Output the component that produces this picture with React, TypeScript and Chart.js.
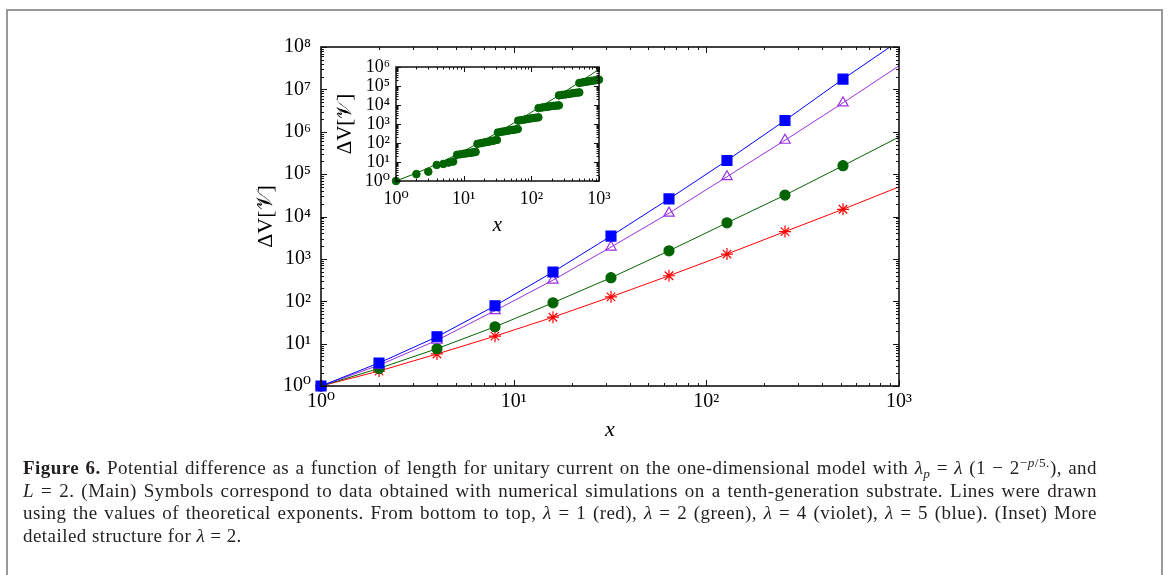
import React, { useEffect, useRef } from 'react';
import { Chart, registerables } from 'chart.js';

Chart.register(...registerables);

// ---------- data ----------
const xValues = [1, 2, 4, 8, 16, 32, 64, 128, 256, 512];
const redValues = [1, 2.25, 5.7, 15, 42, 127, 400, 1300, 4400, 14800]; // lambda = 1
const greenValues = [1, 2.6, 7.6, 25, 92, 360, 1550, 7100, 32000, 158000]; // lambda = 2
const violetValues = [1, 3.1, 12, 60, 315, 1900, 12000, 87000, 630000, 4800000]; // lambda = 4
const blueValues = [1, 3.5, 14.5, 78, 490, 3450, 26000, 210000, 1850000, 17500000]; // lambda = 5

const lineEndX = 1000;
const redEnd = 50000;
const greenEnd = 750000;
const violetEnd = 36000000;
const blueEnd = 140000000;

const mainXTicks = [1, 10, 100, 1000];
const mainXTickLabels = ['10⁰', '10¹', '10²', '10³'];
const mainYTicks = [1, 10, 100, 1e3, 1e4, 1e5, 1e6, 1e7, 1e8];
const mainYTickLabels = ['10⁰', '10¹', '10²', '10³', '10⁴', '10⁵', '10⁶', '10⁷', '10⁸'];

// inset: detailed structure for lambda = 2
const insetX = [
  1, 2, 3, 4, 5, 6, 7,
  8, 9, 10, 11, 12, 13, 14, 15,
  16, 18, 20, 22, 24, 26, 28, 31,
  32, 36, 40, 44, 48, 53, 58, 63,
  64, 72, 80, 88, 96, 106, 116, 127,
  128, 144, 160, 176, 192, 212, 232, 255,
  256, 288, 320, 352, 384, 424, 464, 511,
  512, 576, 640, 704, 768, 848, 928, 1000,
];
const insetY = [
  1, 2.3, 3.1, 7, 7.9, 9.3, 10.5,
  24, 25.5, 27, 28.5, 30, 31, 32.5, 34,
  90, 98, 106, 113, 120, 127, 134, 145,
  355, 385, 412, 438, 462, 488, 513, 540,
  1500, 1620, 1730, 1840, 1940, 2040, 2140, 2240,
  6900, 7350, 7800, 8200, 8600, 8950, 9250, 9550,
  32000, 34000, 36000, 38000, 40000, 42000, 44000, 46000,
  145000, 156000, 166000, 176000, 186000, 196000, 206000, 215000,
];
const insetYTicks = [1, 10, 100, 1e3, 1e4, 1e5, 1e6];
const insetYTickLabels = ['10⁰', '10¹', '10²', '10³', '10⁴', '10⁵', '10⁶'];

// ---------- helpers ----------
const SERIF = '"Liberation Serif", "DejaVu Serif", serif';

const frameTicksPlugin = {
  id: 'frameTicks',
  afterDatasetsDraw(chart: any, _args: any, opts: any) {
    const { ctx, chartArea } = chart;
    const { left, right, top, bottom } = chartArea;
    const xs = chart.scales.x;
    const ys = chart.scales.y;
    const major = opts.major || 6;
    const minor = opts.minor || 3;
    ctx.save();
    ctx.strokeStyle = '#111';
    ctx.lineWidth = 1;
    ctx.beginPath();
    const drawAxis = (scale: any, horizontal: boolean) => {
      const e0 = Math.round(Math.log10(scale.min));
      const e1 = Math.round(Math.log10(scale.max));
      for (let e = e0; e <= e1; e++) {
        for (let k = 1; k <= 9; k++) {
          const v = k * Math.pow(10, e);
          if (v > scale.max * 1.0001) break;
          const p = Math.round(scale.getPixelForValue(v)) + 0.5;
          const len = k === 1 ? major : minor;
          if (horizontal) {
            ctx.moveTo(p, bottom);
            ctx.lineTo(p, bottom - len);
            ctx.moveTo(p, top);
            ctx.lineTo(p, top + len);
          } else {
            ctx.moveTo(left, p);
            ctx.lineTo(left + len, p);
            ctx.moveTo(right, p);
            ctx.lineTo(right - len, p);
          }
        }
      }
    };
    drawAxis(xs, true);
    drawAxis(ys, false);
    ctx.stroke();
    ctx.lineWidth = opts.frameWidth || 1.5;
    ctx.strokeStyle = '#111';
    ctx.strokeRect(left, top, right - left, bottom - top);
    ctx.restore();
  },
};

const pts = (xs: number[], ys: number[]) => xs.map((x, i) => ({ x, y: ys[i] }));

const seriesDefs = [
  { label: 'λ = 5', values: blueValues, end: blueEnd, color: '#0000ff', style: 'rect', radius: 7, fill: '#0000ff' },
  { label: 'λ = 4', values: violetValues, end: violetEnd, color: '#9b30e0', style: 'triangle', radius: 6, fill: 'rgba(255,255,255,0)' },
  { label: 'λ = 2', values: greenValues, end: greenEnd, color: '#006400', style: 'circle', radius: 5, fill: '#006400' },
  { label: 'λ = 1', values: redValues, end: redEnd, color: '#ff0000', style: 'star', radius: 6, fill: '#ff0000' },
];

function MainChart() {
  const ref = useRef<HTMLCanvasElement | null>(null);
  useEffect(() => {
    if (!ref.current) return;
    const markerSets = seriesDefs.map((s) => ({
      label: s.label,
      data: pts(xValues, s.values),
      showLine: false,
      pointStyle: s.style,
      pointRadius: s.radius,
      pointBackgroundColor: s.fill,
      pointBorderColor: s.color,
      pointBorderWidth: 1.2,
      clip: false,
    }));
    const lineSets = seriesDefs.map((s) => ({
      label: s.label + ' theory',
      data: pts([...xValues, lineEndX], [...s.values, s.end]),
      showLine: true,
      borderColor: s.color,
      borderWidth: 1,
      pointRadius: 0,
      clip: 0,
    }));
    const chart = new Chart(ref.current, {
      type: 'scatter',
      data: { datasets: [...markerSets, ...lineSets] as any },
      plugins: [frameTicksPlugin as any],
      options: {
        animation: false,
        responsive: false,
        events: [],
        layout: { padding: { left: 0, top: 27, right: 41, bottom: 0 } },
        plugins: { legend: { display: false }, tooltip: { enabled: false }, frameTicks: { major: 6, minor: 3, frameWidth: 1.6 } } as any,
        scales: {
          x: {
            type: 'logarithmic',
            min: 1,
            max: 1000,
            position: 'bottom',
            grid: { display: false, drawTicks: false },
            border: { display: false },
            afterBuildTicks: (s: any) => { s.ticks = mainXTicks.map((v) => ({ value: v })); },
            afterFit: (s: any) => { s.height = 74; },
            ticks: {
              autoSkip: false,
              maxRotation: 0,
              padding: 4,
              color: '#000',
              font: { family: SERIF, size: 20 },
              callback: (_v: any, i: number) => mainXTickLabels[i],
            },
            title: { display: true, text: 'x', color: '#000', font: { family: SERIF, size: 22, style: 'italic' }, padding: { top: 0, bottom: 17 } },
          },
          y: {
            type: 'logarithmic',
            min: 1,
            max: 1e8,
            position: 'left',
            grid: { display: false, drawTicks: false },
            border: { display: false },
            afterBuildTicks: (s: any) => { s.ticks = mainYTicks.map((v) => ({ value: v })); },
            afterFit: (s: any) => { s.width = 121; },
            ticks: {
              autoSkip: false,
              padding: 10,
              color: '#000',
              font: { family: SERIF, size: 20 },
              callback: (_v: any, i: number) => mainYTickLabels[i],
            },
            title: { display: true, text: 'ΔV[𝒱]', color: '#000', font: { family: SERIF, size: 22 }, padding: { top: 53, bottom: 0 } },
          },
        } as any,
      },
    });
    return () => chart.destroy();
  }, []);
  return <canvas ref={ref} width={740} height={440} style={{ position: 'absolute', left: 200, top: 20, width: 740, height: 440 }} />;
}

function InsetChart() {
  const ref = useRef<HTMLCanvasElement | null>(null);
  useEffect(() => {
    if (!ref.current) return;
    const chart = new Chart(ref.current, {
      type: 'scatter',
      data: {
        datasets: [
          {
            label: 'λ = 2 detail',
            data: pts(insetX, insetY),
            showLine: false,
            pointStyle: 'circle',
            pointRadius: 3.8,
            pointBackgroundColor: '#006400',
            pointBorderColor: '#006400',
            pointBorderWidth: 1,
            clip: false,
          },
          {
            label: 'λ = 2 theory',
            data: pts([...xValues, lineEndX], [...greenValues, greenEnd]),
            showLine: true,
            borderColor: '#006400',
            borderWidth: 1,
            pointRadius: 0,
            clip: 0,
          },
        ] as any,
      },
      plugins: [frameTicksPlugin as any],
      options: {
        animation: false,
        responsive: false,
        events: [],
        layout: { padding: { left: 0, top: 17, right: 21, bottom: 0 } },
        plugins: { legend: { display: false }, tooltip: { enabled: false }, frameTicks: { major: 5, minor: 2.5, frameWidth: 1.5 } } as any,
        scales: {
          x: {
            type: 'logarithmic',
            min: 1,
            max: 1000,
            position: 'bottom',
            grid: { display: false, drawTicks: false },
            border: { display: false },
            afterBuildTicks: (s: any) => { s.ticks = mainXTicks.map((v) => ({ value: v })); },
            afterFit: (s: any) => { s.height = 64; },
            ticks: {
              autoSkip: false,
              maxRotation: 0,
              padding: 7,
              color: '#000',
              font: { family: SERIF, size: 18 },
              callback: (_v: any, i: number) => mainXTickLabels[i],
            },
            title: { display: true, text: 'x', color: '#000', font: { family: SERIF, size: 21, style: 'italic' }, padding: { top: 0, bottom: 7 } },
          },
          y: {
            type: 'logarithmic',
            min: 1,
            max: 1e6,
            position: 'left',
            grid: { display: false, drawTicks: false },
            border: { display: false },
            afterBuildTicks: (s: any) => { s.ticks = insetYTicks.map((v) => ({ value: v })); },
            afterFit: (s: any) => { s.width = 76; },
            ticks: {
              autoSkip: false,
              padding: 6,
              color: '#000',
              font: { family: SERIF, size: 18 },
              callback: (_v: any, i: number) => insetYTickLabels[i],
            },
            title: { display: true, text: 'ΔV[𝒱]', color: '#000', font: { family: SERIF, size: 21 }, padding: { top: 13, bottom: 0 } },
          },
        } as any,
      },
    });
    return () => chart.destroy();
  }, []);
  return <canvas ref={ref} width={300} height={195} style={{ position: 'absolute', left: 320, top: 50, width: 300, height: 195 }} />;
}

const supStyle: React.CSSProperties = { fontSize: '0.7em', verticalAlign: '0.5em', lineHeight: 0 };
const subStyle: React.CSSProperties = { fontSize: '0.7em', verticalAlign: '-0.3em', lineHeight: 0 };
const justLine: React.CSSProperties = { width: 1074, textAlign: 'justify', textAlignLast: 'justify' as any, whiteSpace: 'normal', height: 22.6, overflow: 'visible' };

export default function App() {
  return (
    <div style={{ position: 'absolute', left: 0, top: 0, width: 1168, height: 575, overflow: 'hidden', background: '#fff' }}>
      <div style={{ position: 'absolute', left: 6, top: 9, width: 1153, height: 700, border: '2px solid #999' }} />
      <MainChart />
      <InsetChart />
      <div
        style={{
          position: 'absolute',
          left: 23,
          top: 457,
          fontFamily: SERIF,
          fontSize: 19,
          letterSpacing: '0.45px',
          lineHeight: '22.6px',
          color: '#231f20',
        }}
      >
        <div style={justLine}>
          <b>Figure 6.</b> Potential difference as a function of length for unitary current on the one-dimensional model with{' '}
          <i>λ</i><sub style={subStyle}><i>p</i></sub> = <i>λ</i> (1 − 2<sup style={supStyle}>−<i>p</i>/5.</sup>), and
        </div>
        <div style={justLine}>
          <i>L</i> = 2. (Main) Symbols correspond to data obtained with numerical simulations on a tenth-generation substrate. Lines were drawn
        </div>
        <div style={justLine}>
          using the values of theoretical exponents. From bottom to top, <i>λ</i> = 1 (red), <i>λ</i> = 2 (green), <i>λ</i> = 4 (violet), <i>λ</i> = 5 (blue). (Inset) More
        </div>
        <div style={{ whiteSpace: 'nowrap' }}>
          detailed structure for <i>λ</i> = 2.
        </div>
      </div>
    </div>
  );
}
